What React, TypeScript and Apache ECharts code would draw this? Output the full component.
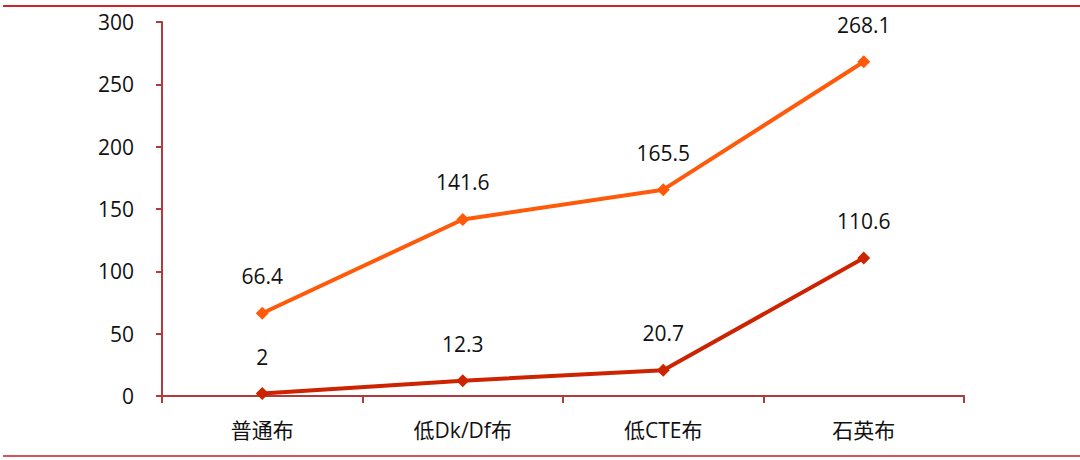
import React, { useEffect, useRef } from "react";
import * as echarts from "echarts";

const categories = ["普通布", "低Dk/Df布", "低CTE布", "石英布"];
const seriesUpper = [66.4, 141.6, 165.5, 268.1];
const seriesLower = [2, 12.3, 20.7, 110.6];

const AXIS_COLOR = "#B23A3C";
const FONT = '"Open Sans", "Noto Sans CJK SC", sans-serif';

export default function App() {
  const ref = useRef<HTMLDivElement>(null);
  useEffect(() => {
    document.body.style.margin = "0";
    if (!ref.current) return;
    const chart = echarts.init(ref.current, null, { renderer: "svg" });
    const labelCfg = {
      show: true,
      position: "top",
      distance: 20,
      color: "#111111",
      fontSize: 21,
      fontFamily: FONT,
    };
    chart.setOption({
      animation: false,
      backgroundColor: "#ffffff",
      textStyle: { fontFamily: FONT },
      grid: { left: 162, right: 116, top: 22, bottom: 64 },
      xAxis: {
        type: "category",
        data: categories,
        boundaryGap: true,
        axisLine: { show: true, lineStyle: { color: AXIS_COLOR, width: 2 } },
        axisTick: { show: true, length: 7, lineStyle: { color: AXIS_COLOR, width: 2 } },
        axisLabel: { color: "#111111", fontSize: 21, margin: 23, fontFamily: FONT },
        splitLine: { show: false },
      },
      yAxis: {
        type: "value",
        min: 0,
        max: 300,
        interval: 50,
        axisLine: { show: true, lineStyle: { color: AXIS_COLOR, width: 2 } },
        axisTick: { show: true, length: 6, lineStyle: { color: AXIS_COLOR, width: 2 } },
        axisLabel: { color: "#111111", fontSize: 21, margin: 28, fontFamily: FONT },
        splitLine: { show: false },
      },
      graphic: [
        {
          type: "line",
          shape: { x1: 3, y1: 6, x2: 1080, y2: 6 },
          style: { stroke: "#D2232A", lineWidth: 2 },
        },
        {
          type: "line",
          shape: { x1: 3, y1: 456, x2: 1080, y2: 456 },
          style: { stroke: "#D9545A", lineWidth: 2 },
        },
      ],
      series: [
        {
          name: "upper",
          type: "line",
          data: seriesUpper,
          symbol: "diamond",
          symbolSize: 13,
          lineStyle: { color: "#FF5A0A", width: 4 },
          itemStyle: { color: "#FF5A0A" },
          label: labelCfg,
        },
        {
          name: "lower",
          type: "line",
          data: seriesLower,
          symbol: "diamond",
          symbolSize: 13,
          lineStyle: { color: "#CC2400", width: 4 },
          itemStyle: { color: "#CC2400" },
          label: labelCfg,
        },
      ],
    });
    return () => chart.dispose();
  }, []);
  return <div ref={ref} style={{ width: 1080, height: 460 }} />;
}
